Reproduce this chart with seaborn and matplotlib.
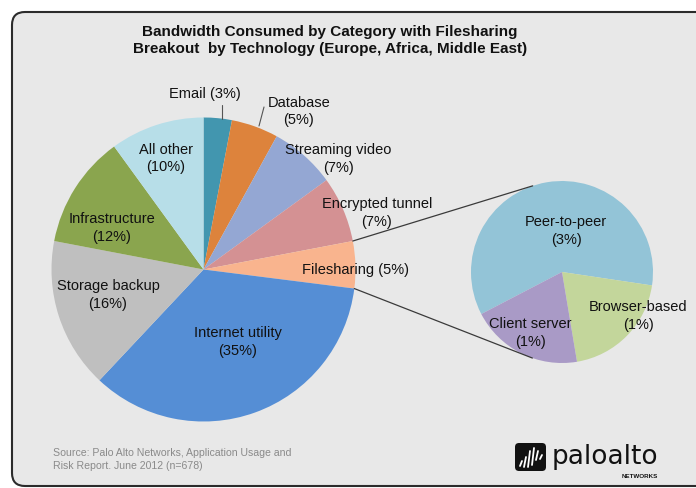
import numpy as np
import matplotlib
matplotlib.use("Agg")
import matplotlib.pyplot as plt
from matplotlib.patches import FancyBboxPatch
import seaborn as sns

# ---- data -------------------------------------------------------------
categories = ["Email", "Database", "Streaming video", "Encrypted tunnel",
              "Filesharing", "Internet utility", "Storage backup",
              "Infrastructure", "All other"]
shares = [3, 5, 7, 7, 5, 35, 16, 12, 10]

fs_categories = ["Peer-to-peer", "Browser-based", "Client server"]
fs_shares = [3, 1, 1]

title_lines = ["Bandwidth Consumed by Category with Filesharing",
               "Breakout  by Technology (Europe, Africa, Middle East)"]
source_lines = ["Source: Palo Alto Networks, Application Usage and",
                "Risk Report. June 2012 (n=678)"]

# ---- style ------------------------------------------------------------
sns.set_theme(style="white")
plt.rcParams["font.family"] = ["Liberation Sans", "DejaVu Sans"]

main_colors = sns.color_palette(["#4296AF", "#DD833C", "#94A7D3", "#D49193",
                                 "#F9B48E", "#558ED5", "#BFBFBF", "#8AA54E",
                                 "#B7DEE8"])
sub_colors = sns.color_palette(["#93C4D7", "#C3D69B", "#A99AC6"])

W, H = 696, 489
fig = plt.figure(figsize=(W / 100, H / 100), dpi=100)
fig.patch.set_facecolor("white")
ax = fig.add_axes([0, 0, 1, 1])


def Y(y):
    """Convert a top-down pixel row to the axes' bottom-up coordinate."""
    return H - y


# rounded panel
panel = FancyBboxPatch((12, Y(487)), 720, 474,
                       boxstyle="round,pad=0,rounding_size=13",
                       facecolor="#E8E8E8", edgecolor="#2B2B2B",
                       linewidth=1.5, zorder=0)
ax.add_patch(panel)

# ---- main pie ---------------------------------------------------------
main_center = (203.5, Y(270.5))
main_r = 152
wedges, _ = ax.pie(shares, colors=main_colors, startangle=90,
                   counterclock=False, center=main_center, radius=main_r,
                   wedgeprops=dict(linewidth=0))

# ---- breakout pie -----------------------------------------------------
sub_center = (562, Y(273))
sub_r = 91
sub_wedges, _ = ax.pie(fs_shares, colors=sub_colors, startangle=207.5,
                       counterclock=False, center=sub_center, radius=sub_r,
                       wedgeprops=dict(linewidth=0))

# connector lines from the Filesharing wedge to the breakout pie
fs_wedge = wedges[categories.index("Filesharing")]
for ang_main, ang_sub in [(fs_wedge.theta2, 108.8), (fs_wedge.theta1, 251.0)]:
    p1 = (main_center[0] + main_r * np.cos(np.radians(ang_main)),
          main_center[1] + main_r * np.sin(np.radians(ang_main)))
    p2 = (sub_center[0] + sub_r * np.cos(np.radians(ang_sub)),
          sub_center[1] + sub_r * np.sin(np.radians(ang_sub)))
    ax.plot([p1[0], p2[0]], [p1[1], p2[1]], color="#3A3A3A", lw=0.9,
            zorder=3)

# ---- slice labels -----------------------------------------------------
label_pos = {
    "Email": (205, 94),
    "Database": (299, 111.5),
    "Streaming video": (338, 159),
    "Encrypted tunnel": (377, 213),
    "Filesharing": (356, 270),
    "Internet utility": (238, 342),
    "Storage backup": (108, 295),
    "Infrastructure": (112, 228),
    "All other": (166, 158.5),
    "Peer-to-peer": (566, 231),
    "Browser-based": (638, 316),
    "Client server": (530, 333),
}
single_line = {"Email", "Filesharing"}

for name, val in list(zip(categories, shares)) + list(zip(fs_categories, fs_shares)):
    txt = f"{name} ({val}%)" if name in single_line else f"{name}\n({val}%)"
    x, y = label_pos[name]
    ax.text(x, Y(y), txt, ha="center", va="center", fontsize=10.5,
            color="#111111", linespacing=1.3, zorder=4)

# leader lines for the two thin top slices
ax.plot([222, 222], [Y(106), Y(120)], color="#555555", lw=0.8, zorder=3)
ax.plot([264, 259], [Y(108), Y(127)], color="#555555", lw=0.8, zorder=3)

# ---- title & source ---------------------------------------------------
ax.text(330, Y(32), title_lines[0], ha="center", va="center",
        fontsize=11, fontweight="bold", color="#111111")
ax.text(330, Y(49), title_lines[1], ha="center", va="center",
        fontsize=11, fontweight="bold", color="#111111")
ax.text(53, Y(453), source_lines[0], ha="left", va="center",
        fontsize=7.6, color="#8A8A8A")
ax.text(53, Y(466), source_lines[1], ha="left", va="center",
        fontsize=7.6, color="#8A8A8A")

# ---- logo -------------------------------------------------------------
logo_box = FancyBboxPatch((515, Y(472)), 31, 28,
                          boxstyle="round,pad=0,rounding_size=4",
                          facecolor="#111111", edgecolor="none", zorder=4)
ax.add_patch(logo_box)
stripe_x = [520, 524, 528, 532, 536, 540]
stripe_top = [462, 458, 452, 449, 452, 456]
stripe_bot = [467, 468, 468, 466, 461, 460]
for sx, st, sb in zip(stripe_x, stripe_top, stripe_bot):
    ax.plot([sx, sx + 2], [Y(sb), Y(st)], color="white", lw=1.3,
            solid_capstyle="round", zorder=5)
ax.text(552, Y(464), "paloalto", ha="left", va="baseline",
        fontsize=19, color="#111111", family=["DejaVu Sans"], zorder=5)
ax.text(658, Y(477), "NETWORKS", ha="right", va="center", fontsize=4.5,
        fontweight="bold", color="#111111", zorder=5)

ax.set_xlim(0, W)
ax.set_ylim(0, H)
ax.set_aspect("auto")
ax.axis("off")

fig.savefig("out.png", dpi=100, facecolor="white")
